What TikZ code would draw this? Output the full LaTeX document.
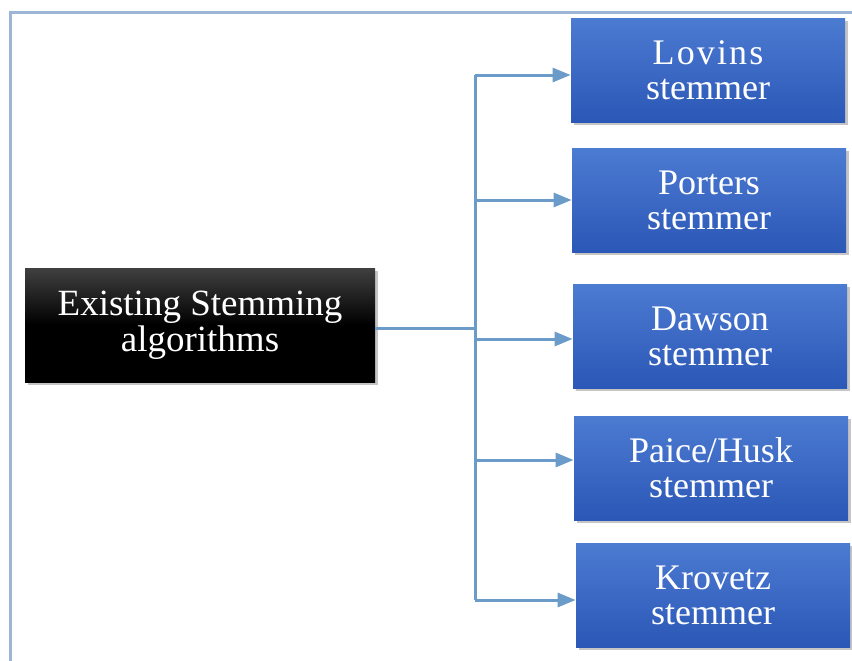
\documentclass[tikz,border=0pt]{standalone}
\usepackage{fontspec}
\setmainfont{Liberation Serif}
\usetikzlibrary{arrows.meta,shadows}

\definecolor{framecol}{HTML}{9DB6D6}
\definecolor{linkcol}{HTML}{6A9BC9}
\definecolor{boxtop}{HTML}{4C7BD2}
\definecolor{boxbot}{HTML}{2B57B6}

\tikzset{
  algobox/.style={rectangle, top color=boxtop, bottom color=boxbot,
    minimum width=137pt, minimum height=52pt, inner sep=0pt, align=center,
    text=white, font=\fontsize{18}{17.5}\selectfont,
    drop shadow={shadow xshift=1.5pt, shadow yshift=-1.5pt, opacity=0.45}},
  rootbox/.style={rectangle, top color=black!75, bottom color=black, middle color=black,
    minimum width=175pt, minimum height=57pt, inner sep=0pt, align=center,
    text=white, font=\fontsize{18.5}{18}\selectfont,
    drop shadow={shadow xshift=1.5pt, shadow yshift=-1.5pt, opacity=0.45}},
  link/.style={draw=linkcol, line width=1.5pt},
  linkarrow/.style={link, -{Triangle[length=9pt,width=7pt]}}
}

\begin{document}
\begin{tikzpicture}[x=0.5pt, y=-0.5pt]
    \useasboundingbox (0,0) rectangle (852,660);
    \fill[white] (0,0) rectangle (852,660);
    % outer frame
    \draw[framecol, line width=1.5pt] (10,665) -- (10,12) -- (860,12);

    \node (root) [rootbox] at (200,325) {Existing Stemming\\algorithms};

    \node (lovins)  [algobox] at (708,70)  {{\addfontfeature{LetterSpace=6}Lovins}\\stemmer};
    \node (porters) [algobox] at (709,200) {Porters\\stemmer};
    \node (dawson)  [algobox] at (710,336) {Dawson\\stemmer};
    \node (paice)   [algobox] at (711,468) {Paice/Husk\\stemmer};
    \node (krovetz) [algobox] at (713,595) {Krovetz\\stemmer};

    \coordinate (trunk) at (475,328);
    \coordinate (top) at (475,75);
    \coordinate (bottom) at (475,600);

    \draw[link] (root.east |- trunk) -- (trunk);
    \draw[link] (top) -- (bottom);
    \draw[linkarrow] (top) -- (lovins.west |- top);
    \draw[linkarrow] (trunk |- porters.west) -- (porters.west);
    \draw[linkarrow] ([yshift=-1.5pt]trunk |- dawson.west) -- ([yshift=-1.5pt]dawson.west);
    \draw[linkarrow] ([yshift=4pt]trunk |- paice.west) -- ([yshift=4pt]paice.west);
    \draw[linkarrow] (bottom) -- (krovetz.west |- bottom);
\end{tikzpicture}
\end{document}
